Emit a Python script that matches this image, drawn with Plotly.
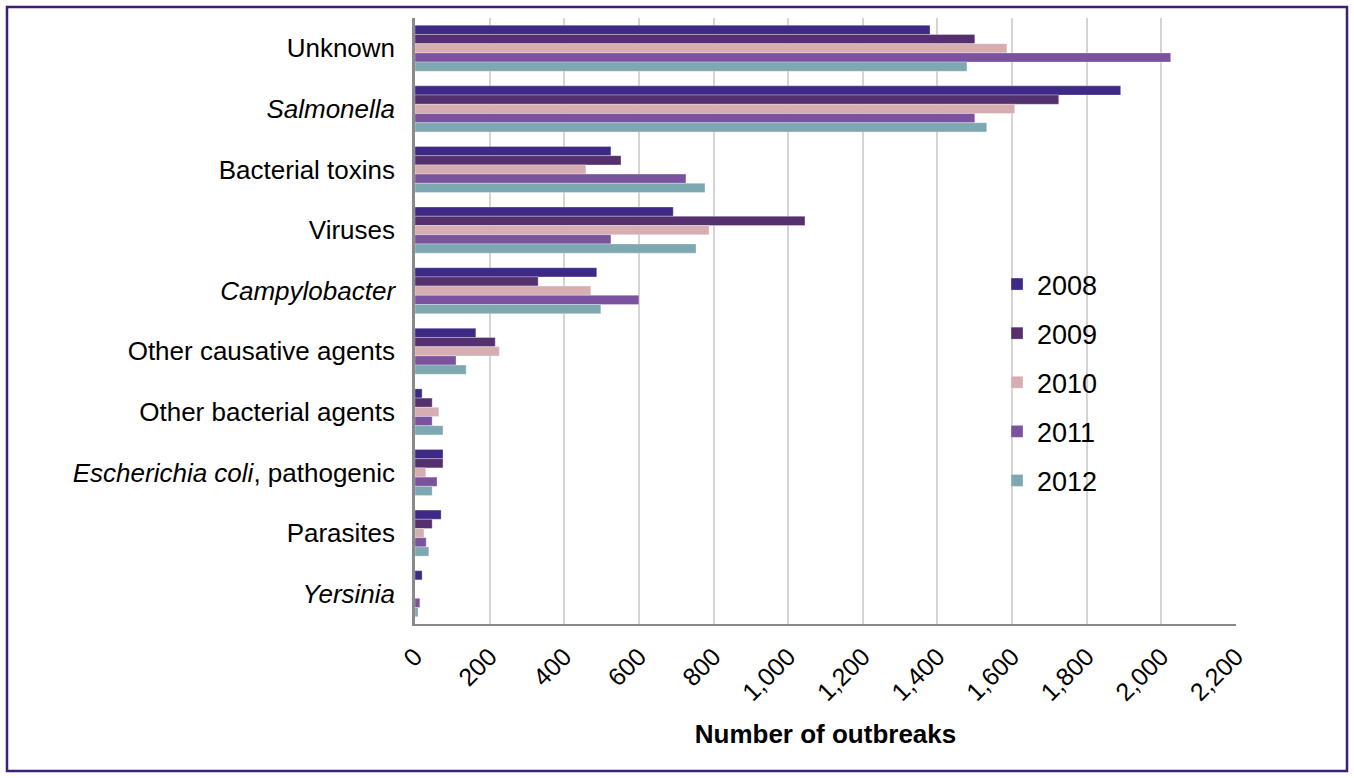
import plotly.graph_objects as go

categories = ["Unknown", "Salmonella", "Bacterial toxins", "Viruses", "Campylobacter",
              "Other causative agents", "Other bacterial agents",
              "Escherichia coli, pathogenic", "Parasites", "Yersinia"]
tick_labels = ["Unknown", "<i>Salmonella</i>", "Bacterial toxins", "Viruses", "<i>Campylobacter</i>",
               "Other causative agents", "Other bacterial agents",
               "<i>Escherichia coli</i>, pathogenic", "Parasites", "<i>Yersinia</i>"]
years = ["2008", "2009", "2010", "2011", "2012"]
v2008 = [1380, 1891, 525, 692, 487, 163, 19, 75, 70, 19]
v2009 = [1500, 1725, 552, 1045, 330, 215, 46, 75, 46, 0]
v2010 = [1586, 1607, 458, 788, 471, 226, 64, 29, 24, 0]
v2011 = [2025, 1500, 726, 525, 600, 110, 46, 59, 30, 13]
v2012 = [1479, 1532, 777, 753, 498, 137, 75, 46, 37, 8]
series = [v2008, v2009, v2010, v2011, v2012]
colors = ["#3e2a86", "#55306f", "#d6aeb1", "#7b529d", "#7ea8b1"]

fig = go.Figure()
for i, (yr, vals, col) in enumerate(zip(years, series, colors)):
    fig.add_trace(go.Bar(
        y=categories, x=vals, name=yr, orientation="h",
        marker=dict(color=col, line=dict(color="rgba(255,255,255,0.6)", width=0.5)),
        legendgroup=yr,
    ))

L, R, T, B = 415, 1236, 18, 624
W, H = 1354, 778
pw, ph = R - L, B - T

def px(x):
    return (x - L) / pw

def py(y):
    return (B - y) / ph

fig.update_layout(
    width=W, height=H,
    margin=dict(l=L, r=W - R, t=T, b=H - B, autoexpand=False),
    paper_bgcolor="white", plot_bgcolor="white",
    barmode="group", bargap=0.24, bargroupgap=0,
    font=dict(family="Liberation Sans, Arial, sans-serif", color="black"),
    showlegend=True,
    legend=dict(x=px(997), y=py(260), xanchor="left", yanchor="top",
                font=dict(size=27, color="black"), tracegroupgap=11,
                bgcolor="rgba(0,0,0,0)", itemwidth=30),
    shapes=[dict(type="rect", xref="paper", yref="paper",
                 x0=px(7), x1=px(1347), y0=py(771), y1=py(7),
                 line=dict(color="#3d1f78", width=2.5), fillcolor="rgba(0,0,0,0)",
                 layer="below")],
)
fig.update_yaxes(
    type="category", categoryorder="array", categoryarray=categories,
    tickvals=categories, ticktext=tick_labels,
    autorange="reversed", tickfont=dict(size=26, color="black"),
    showline=True, linecolor="#8a8a8a", linewidth=2.5, showgrid=False,
    ticks="", ticklabelstandoff=12,
)
fig.update_xaxes(
    range=[0, 2200], dtick=200, tickformat=",", tickangle=-45,
    tickfont=dict(size=25, color="black"),
    showgrid=True, gridcolor="#d4d4d4", gridwidth=2,
    showline=True, linecolor="#8a8a8a", linewidth=2,
    zeroline=False, ticks="", ticklabelstandoff=6,
    title=dict(text="<b>Number of outbreaks</b>", font=dict(size=26, color="black"), standoff=20),
)

fig.write_html("out.html", config={"displayModeBar": False},
               post_script="document.body.style.margin='0';document.body.style.overflow='hidden';")
